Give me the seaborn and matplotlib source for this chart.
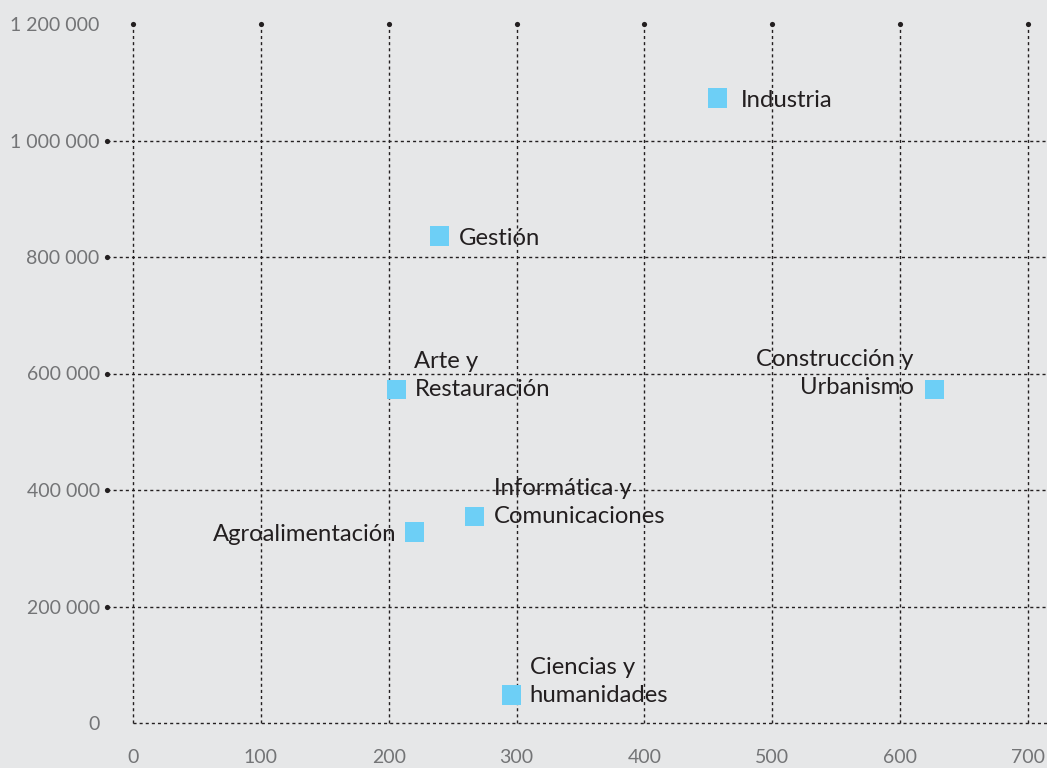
import matplotlib
matplotlib.use("Agg")
import matplotlib.pyplot as plt
import seaborn as sns
import pandas as pd

# Familias profesionales: coste (eje x) frente a financiación (eje y)
sectores = [
    "Industria",
    "Gestión",
    "Arte y\nRestauración",
    "Construcción y\nUrbanismo",
    "Informática y\nComunicaciones",
    "Agroalimentación",
    "Ciencias y\nhumanidades",
]
valor_x = [457, 240, 206, 627, 267, 220, 296]
valor_y = [1073000, 836000, 573000, 573000, 355000, 328000, 48000]

x_ticks = [0, 100, 200, 300, 400, 500, 600, 700]
y_ticks = [0, 200000, 400000, 600000, 800000, 1000000, 1200000]
y_tick_labels = ["0", "200 000", "400 000", "600 000", "800 000", "1 000 000", "1 200 000"]

# label placement: (dx, dy) in points, horizontal alignment
etiquetas = {
    "Industria": (17, -1.5, "left"),
    "Gestión": (14, -1.5, "left"),
    "Arte y\nRestauración": (13, 10, "left"),
    "Construcción y\nUrbanismo": (-15, 11.5, "right"),
    "Informática y\nComunicaciones": (14, 10, "left"),
    "Agroalimentación": (-13, -2, "right"),
    "Ciencias y\nhumanidades": (13, 10, "left"),
}

BG = "#e6e7e8"
CYAN = "#6dcff6"
INK = "#231f20"
GREY = "#737476"

sns.set_style("white")
plt.rcParams["font.family"] = ["Lato", "DejaVu Sans"]

df = pd.DataFrame({"sector": sectores, "x": valor_x, "y": valor_y})

fig = plt.figure(figsize=(10.47, 7.68), dpi=100, facecolor=BG)
ax = fig.add_axes([133 / 1047, 45 / 768, 895 / 1047, 699 / 768])
ax.set_facecolor(BG)

x0, x1 = x_ticks[0], x_ticks[-1]
y0, y1 = y_ticks[0], y_ticks[-1]
ax.set_xlim(x0, x1)
ax.set_ylim(y0, y1)

dash = (0, (2.2, 2.2))
left_end = -20
right_end = 715

# vertical grid lines with a dot on top
ax.vlines(x_ticks, y0, y1, colors=INK, linestyles=dash, linewidth=1.0, clip_on=False, zorder=1)
ax.scatter(x_ticks, [y1] * len(x_ticks), s=14, color=INK, clip_on=False, zorder=2, linewidths=0)

# horizontal grid lines with a dot on the left
inner = y_ticks[1:-1]
ax.hlines(inner, left_end, right_end, colors=INK, linestyles=dash, linewidth=1.0, clip_on=False, zorder=1)
ax.hlines([y0], x0, right_end, colors=INK, linestyles=dash, linewidth=1.0, clip_on=False, zorder=1)
ax.scatter([left_end] * len(inner), inner, s=14, color=INK, clip_on=False, zorder=2, linewidths=0)

sns.scatterplot(data=df, x="x", y="y", marker="s", s=190, color=CYAN,
                edgecolor="none", linewidth=0, ax=ax, zorder=3, clip_on=False)

for nombre, xv, yv in zip(sectores, valor_x, valor_y):
    dx, dy, ha = etiquetas[nombre]
    ax.annotate(nombre, (xv, yv), xytext=(dx, dy), textcoords="offset points",
                ha=ha, va="center", multialignment=ha, fontsize=17.2,
                color=INK, linespacing=1.4, zorder=4)

for s in ax.spines.values():
    s.set_visible(False)

ax.set_xticks(x_ticks)
ax.set_xticklabels([str(v) for v in x_ticks])
ax.set_yticks(y_ticks)
ax.set_yticklabels(y_tick_labels)
ax.tick_params(axis="both", length=0, labelsize=14, labelcolor=GREY)
ax.tick_params(axis="y", pad=24)
ax.tick_params(axis="x", pad=19)
ax.set_xlabel("")
ax.set_ylabel("")
ax.grid(False)

fig.savefig("out.png", dpi=100, facecolor=BG)
